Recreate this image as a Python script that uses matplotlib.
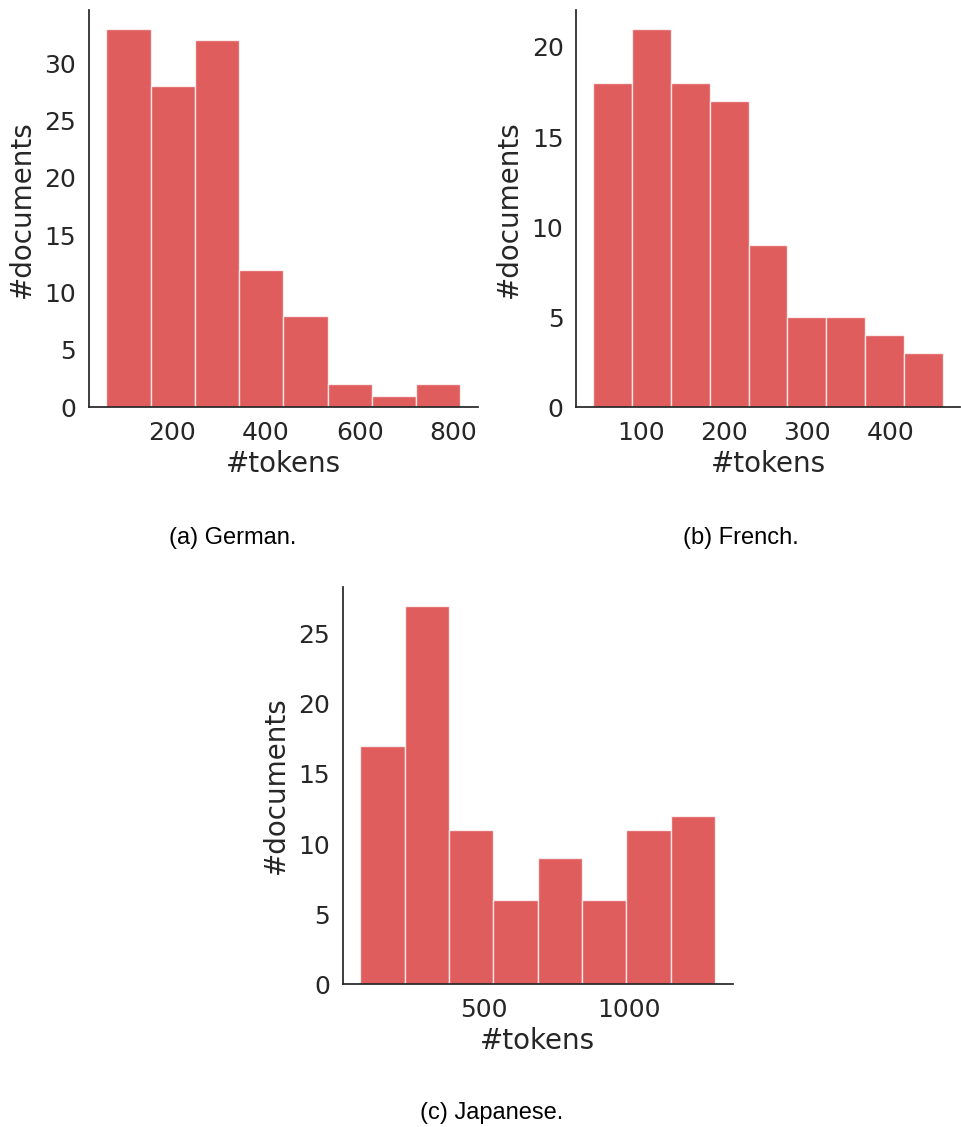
import matplotlib
matplotlib.use("Agg")
import matplotlib.pyplot as plt
import numpy as np

plt.rcParams["font.family"] = ["DejaVu Sans"]

# Data
german_edges = [59, 153.5, 248, 342.5, 437, 531.5, 626, 720.5, 815]
german_counts = [33, 28, 32, 12, 8, 2, 1, 2]

french_edges = [42, 89, 136, 182, 229, 276, 323, 370, 416, 463]
french_counts = [18, 21, 18, 17, 9, 5, 5, 4, 3]

japanese_edges = [73, 226, 380, 533, 686, 839, 992, 1146, 1299]
japanese_counts = [17, 27, 11, 6, 9, 6, 11, 12]

german_xticks = [200, 400, 600, 800]
german_yticks = [0, 5, 10, 15, 20, 25, 30]
french_xticks = [100, 200, 300, 400]
french_yticks = [0, 5, 10, 15, 20]
japanese_xticks = [500, 1000]
japanese_yticks = [0, 5, 10, 15, 20, 25]

captions = ["(a) German.", "(b) French.", "(c) Japanese."]
xlabel = "#tokens"
ylabel = "#documents"

W, H = 961, 1127
fig = plt.figure(figsize=(W / 100, H / 100), dpi=100)

def rect(l, t, r, b):
    return [l / W, 1 - b / H, (r - l) / W, (b - t) / H]

axes_specs = [
    (rect(88.7, 10, 478, 407.3), german_edges, german_counts, german_xticks, german_yticks),
    (rect(576, 10, 960, 407.3), french_edges, french_counts, french_xticks, french_yticks),
    (rect(342.7, 586.7, 732.7, 984.3), japanese_edges, japanese_counts, japanese_xticks, japanese_yticks),
]

text_color = "#262626"
for pos, edges, counts, xt, yt in axes_specs:
    ax = fig.add_axes(pos)
    edges = np.asarray(edges, dtype=float)
    ax.bar(edges[:-1], counts, width=np.diff(edges), align="edge",
           color="tab:red", alpha=0.75, edgecolor="white", linewidth=1.0)
    ax.margins(x=0.05, y=0.05)
    ax.set_ylim(0, max(counts) * 1.05)
    ax.set_xticks(xt)
    ax.set_yticks(yt)
    ax.tick_params(axis="x", length=0, labelsize=18, colors=text_color, pad=10)
    ax.tick_params(axis="y", length=0, labelsize=18, colors=text_color, pad=9)
    ax.set_xlabel(xlabel, fontsize=20, color=text_color, labelpad=3.5)
    ax.set_ylabel(ylabel, fontsize=20, color=text_color, labelpad=6)
    for s in ["top", "right"]:
        ax.spines[s].set_visible(False)
    for s in ["left", "bottom"]:
        ax.spines[s].set_color(text_color)
        ax.spines[s].set_linewidth(1.25)

cap_kw = dict(fontsize=17, family="Liberation Sans", color="black", ha="center", va="center")
fig.text(233 / W, 1 - 538 / H, captions[0], **cap_kw)
fig.text(741 / W, 1 - 538 / H, captions[1], **cap_kw)
fig.text(492 / W, 1 - 1113 / H, captions[2], **cap_kw)

fig.savefig("out.png", dpi=100)
